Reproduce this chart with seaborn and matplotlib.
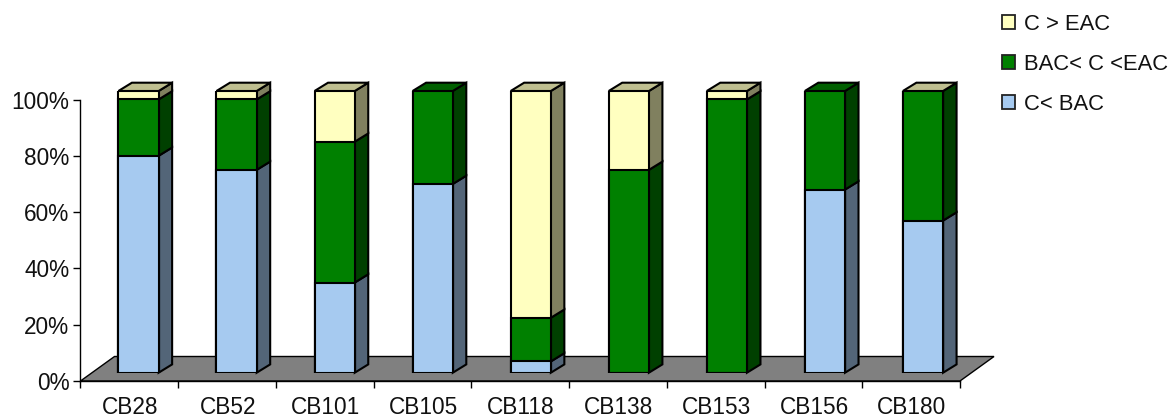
import numpy as np
import matplotlib
matplotlib.use("Agg")
import matplotlib.pyplot as plt
import pandas as pd
import seaborn as sns
from matplotlib.patches import Patch, Polygon

sns.set_theme(style="white")
plt.rcParams["font.family"] = ["Liberation Sans", "DejaVu Sans"]

congeners = ["CB28", "CB52", "CB101", "CB105", "CB118", "CB138", "CB153", "CB156", "CB180"]
below_bac = [77, 72, 32, 67, 4, 0, 0, 65, 54]
bac_to_eac = [20, 25, 50, 33, 15.5, 72, 97, 35, 46]
# NaN: no value in the series; 0: a value of zero, which still caps the stack
above_eac = [3, 3, 18, np.nan, 80.5, 28, 3, np.nan, 0]
series_labels = ["C > EAC", "BAC< C <EAC", "C< BAC"]
y_ticks = [0, 20, 40, 60, 80, 100]

BLUE, GREEN, YELLOW = "#a6caf0", "#008000", "#ffffc0"
SIDE = {BLUE: "#536578", GREEN: "#004000", YELLOW: "#80805f"}
TOP = {BLUE: "#7d98b4", GREEN: "#006000", YELLOW: "#bfbf90"}
INK = "#000000"
TEXT = "#111111"

W, H = 1171, 416
fig = plt.figure(figsize=(W / 100, H / 100), dpi=100)


def axes_px(left, right, top, bottom):
    return fig.add_axes([left / W, 1 - bottom / H, (right - left) / W, (bottom - top) / H])


# Frame axes: the floor, the y axis and the category ticks
frame = axes_px(80.5, 960, 99.7, 381)
frame.set_xlim(-0.5, len(congeners) - 0.5)
frame.set_ylim(0, 100)
frame.patch.set_alpha(0)
sns.despine(ax=frame)
for side in ("left", "bottom"):
    frame.spines[side].set_color(INK)
    frame.spines[side].set_linewidth(1)
frame.set_yticks(y_ticks, [f"{v}%" for v in y_ticks], fontsize=16.3, color=TEXT)
frame.set_xticks(np.arange(len(congeners) + 1) - 0.5, [""] * (len(congeners) + 1))
frame.tick_params(axis="both", length=5, width=1, color=INK, left=True, bottom=True, pad=3)
for pos, name in enumerate(congeners):
    frame.annotate(name, (pos, 0), xytext=(0.5, -10.5), textcoords="offset points",
                   ha="center", va="top", fontsize=16.3, color=TEXT, annotation_clip=False)

# The floor recedes behind the front plane by a fixed depth in pixels
px_x = (960 - 80.5) / len(congeners)
px_y = 281.3 / 100
floor_depth_x = 34 / px_x
floor_depth_y = 24.5 / px_y
frame.add_patch(Polygon(
    [(-0.5, 0), (len(congeners) - 0.5, 0),
     (len(congeners) - 0.5 + floor_depth_x, floor_depth_y), (-0.5 + floor_depth_x, floor_depth_y)],
    closed=True, facecolor="#808080", edgecolor=INK, linewidth=1, clip_on=False, zorder=0))

# Bar axes: shifted into the depth of the floor
bars = axes_px(89.5, 972, 91, 372.7)
bars.patch.set_alpha(0)
bars.axis("off")

mid_top = np.add(below_bac, bac_to_eac)
table = pd.DataFrame({
    "congener": congeners,
    "low": below_bac,
    "mid": mid_top,
    "high": mid_top + np.nan_to_num(above_eac),
})
bar_width = 0.41
# Cumulative totals drawn tallest first, so each shorter bar covers the one behind
for column, colour in (("high", YELLOW), ("mid", GREEN), ("low", BLUE)):
    sns.barplot(data=table, x="congener", y=column, order=congeners, color=colour, width=bar_width,
                saturation=1, edgecolor=INK, linewidth=1.5, ax=bars, zorder=4)
bars.set_xlim(-0.5, len(congeners) - 0.5)
bars.set_ylim(0, 100)
bars.set_xlabel("")
bars.set_ylabel("")

# Side and top faces of every segment
dx = 13.5 / ((972 - 89.5) / len(congeners))
dy = 8.3 / (281.7 / 100)
half = bar_width / 2
for i in range(len(congeners)):
    base = 0.0
    top_colour = None
    for value, colour in ((below_bac[i], BLUE), (bac_to_eac[i], GREEN), (above_eac[i], YELLOW)):
        if np.isnan(value):
            continue
        top_colour = colour
        if value == 0:
            continue
        x1 = i + half
        y0, y1 = base, base + value
        bars.add_patch(Polygon([(x1, y0), (x1 + dx, y0 + dy), (x1 + dx, y1 + dy), (x1, y1)],
                               closed=True, facecolor=SIDE[colour], edgecolor=INK,
                               linewidth=1.5, clip_on=False, zorder=3))
        base = y1
    x0, x1 = i - half, i + half
    bars.add_patch(Polygon([(x0, base), (x1, base), (x1 + dx, base + dy), (x0 + dx, base + dy)],
                           closed=True, facecolor=TOP[top_colour], edgecolor=INK,
                           linewidth=1.5, clip_on=False, zorder=3))

handles = [Patch(facecolor=c, edgecolor="#222222", linewidth=1.3) for c in (YELLOW, GREEN, BLUE)]
fig.legend(handles, series_labels, loc="upper left", bbox_to_anchor=(995.5 / W, 1 - 7 / H),
           frameon=False, fontsize=15.8, handlelength=0.6, handleheight=0.6, handletextpad=0.4,
           labelspacing=0.87, borderpad=0.3, borderaxespad=0, labelcolor=TEXT)

fig.savefig("out.png", dpi=100)
